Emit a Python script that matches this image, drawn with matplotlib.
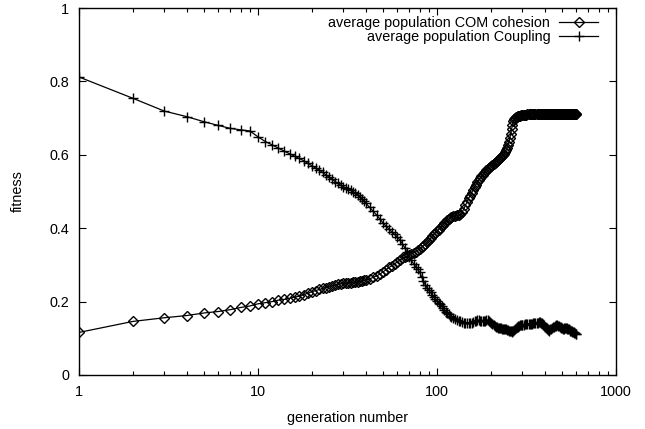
import numpy as np
import matplotlib
matplotlib.use('Agg')
import matplotlib.pyplot as plt
from matplotlib.ticker import FixedLocator, NullFormatter, NullLocator

plt.rcParams['font.family'] = ['Liberation Sans', 'DejaVu Sans']
plt.rcParams['font.size'] = 10.4

# generation numbers (sampled more sparsely as the log axis gets crowded)
generations = (list(range(1, 41)) + list(range(42, 121, 2))
               + list(range(123, 301, 3)) + list(range(305, 601, 5)))

# average population COM cohesion
com_cohesion = [
    # 1..40
    0.116, 0.146, 0.156, 0.162, 0.169, 0.173, 0.178, 0.184, 0.188, 0.194,
    0.197, 0.200, 0.204, 0.206, 0.209, 0.212, 0.215, 0.219, 0.223, 0.227,
    0.230, 0.233, 0.236, 0.238, 0.241, 0.243, 0.245, 0.247, 0.249, 0.250,
    0.251, 0.251, 0.252, 0.253, 0.253, 0.254, 0.255, 0.256, 0.258, 0.259,
    # 42..120 step 2
    0.262, 0.266, 0.270, 0.275, 0.281, 0.287, 0.293, 0.298, 0.303, 0.308,
    0.313, 0.318, 0.321, 0.324, 0.327, 0.330, 0.333, 0.336, 0.340, 0.344,
    0.348, 0.352, 0.357, 0.362, 0.367, 0.372, 0.378, 0.383, 0.388, 0.392,
    0.396, 0.400, 0.405, 0.409, 0.414, 0.418, 0.421, 0.424, 0.427, 0.430,
    # 123..300 step 3
    0.432, 0.433, 0.435, 0.436, 0.438, 0.444, 0.452, 0.462, 0.472, 0.481,
    0.489, 0.497, 0.505, 0.512, 0.519, 0.525, 0.531, 0.536, 0.541, 0.546,
    0.550, 0.554, 0.558, 0.561, 0.564, 0.567, 0.570, 0.573, 0.576, 0.578,
    0.581, 0.583, 0.586, 0.588, 0.591, 0.594, 0.597, 0.599, 0.602, 0.607,
    0.613, 0.619, 0.626, 0.634, 0.645, 0.657, 0.670, 0.682, 0.691, 0.697,
    0.701, 0.703, 0.704, 0.705, 0.706, 0.707, 0.707, 0.708, 0.708, 0.708,
    # 305..600 step 5
    0.709, 0.709, 0.709, 0.710, 0.710, 0.710, 0.710, 0.711, 0.711, 0.711,
    0.711, 0.712, 0.712, 0.712, 0.712, 0.712, 0.712, 0.712, 0.712, 0.712,
    0.712, 0.712, 0.712, 0.711, 0.711, 0.711, 0.711, 0.711, 0.711, 0.711,
    0.711, 0.711, 0.711, 0.710, 0.710, 0.710, 0.710, 0.710, 0.710, 0.710,
    0.710, 0.710, 0.710, 0.710, 0.710, 0.710, 0.710, 0.710, 0.710, 0.710,
    0.710, 0.710, 0.710, 0.710, 0.710, 0.710, 0.710, 0.710, 0.710, 0.710,
]

# average population Coupling
coupling = [
    # 1..40
    0.812, 0.754, 0.719, 0.704, 0.690, 0.680, 0.672, 0.668, 0.665, 0.649,
    0.636, 0.627, 0.618, 0.610, 0.603, 0.596, 0.590, 0.584, 0.577, 0.570,
    0.564, 0.558, 0.552, 0.545, 0.539, 0.533, 0.527, 0.522, 0.517, 0.513,
    0.510, 0.506, 0.503, 0.499, 0.495, 0.491, 0.486, 0.480, 0.474, 0.468,
    # 42..120 step 2
    0.457, 0.446, 0.436, 0.425, 0.414, 0.405, 0.397, 0.390, 0.383, 0.376,
    0.368, 0.358, 0.347, 0.335, 0.322, 0.312, 0.303, 0.295, 0.288, 0.280,
    0.268, 0.256, 0.246, 0.238, 0.231, 0.225, 0.219, 0.213, 0.207, 0.201,
    0.197, 0.193, 0.188, 0.183, 0.178, 0.173, 0.169, 0.165, 0.162, 0.159,
    # 123..300 step 3
    0.156, 0.153, 0.150, 0.148, 0.146, 0.144, 0.143, 0.142, 0.141, 0.141,
    0.142, 0.143, 0.145, 0.147, 0.148, 0.149, 0.149, 0.148, 0.147, 0.146,
    0.147, 0.148, 0.150, 0.150, 0.148, 0.145, 0.141, 0.138, 0.136, 0.134,
    0.132, 0.130, 0.129, 0.128, 0.127, 0.127, 0.126, 0.126, 0.125, 0.125,
    0.124, 0.123, 0.122, 0.121, 0.120, 0.119, 0.118, 0.119, 0.121, 0.123,
    0.126, 0.128, 0.130, 0.132, 0.133, 0.134, 0.135, 0.136, 0.136, 0.137,
    # 305..600 step 5
    0.137, 0.138, 0.138, 0.139, 0.139, 0.139, 0.140, 0.140, 0.141, 0.141,
    0.142, 0.142, 0.143, 0.144, 0.144, 0.143, 0.141, 0.138, 0.135, 0.132,
    0.129, 0.126, 0.123, 0.121, 0.122, 0.124, 0.126, 0.128, 0.130, 0.131,
    0.133, 0.134, 0.135, 0.135, 0.134, 0.133, 0.131, 0.130, 0.128, 0.127,
    0.126, 0.126, 0.127, 0.128, 0.128, 0.127, 0.126, 0.125, 0.124, 0.123,
    0.121, 0.120, 0.119, 0.118, 0.117, 0.116, 0.115, 0.114, 0.113, 0.113,
]

x_ticks = [1, 10, 100, 1000]
x_labels = ['1', '10', '100', '1000']
y_ticks = [0, 0.2, 0.4, 0.6, 0.8, 1]
y_labels = ['0', '0.2', '0.4', '0.6', '0.8', '1']

fig = plt.figure(figsize=(6.45, 4.29), dpi=100)
ax = fig.add_axes([79 / 645, 1 - 375 / 429, (616 - 79) / 645, (375 - 8) / 429])

ax.plot(generations, com_cohesion, color='black', lw=0.9, marker='D',
        ms=5.5, mfc='none', mec='black', mew=1.0,
        label='average population COM cohesion')
ax.plot(generations, coupling, color='black', lw=0.9, marker='+',
        ms=7, mec='black', mew=1.0,
        label='average population Coupling')

ax.set_xscale('log')
ax.set_xlim(1, 1000)
ax.set_ylim(0, 1)
ax.xaxis.set_major_locator(FixedLocator(x_ticks))
ax.set_xticklabels(x_labels)
ax.xaxis.set_minor_locator(FixedLocator(
    [m * d for d in (1, 10, 100) for m in range(2, 10)]))
ax.xaxis.set_minor_formatter(NullFormatter())
ax.set_yticks(y_ticks)
ax.set_yticklabels(y_labels)
ax.yaxis.set_minor_locator(NullLocator())

ax.tick_params(which='both', direction='in', top=True, right=True,
               width=0.8, pad=7)
ax.tick_params(which='major', length=5)
ax.tick_params(which='minor', length=3)
for s in ax.spines.values():
    s.set_linewidth(1.0)

ax.set_xlabel('generation number', labelpad=9)
ax.set_ylabel('fitness', labelpad=18)

ax.legend(loc='upper right', bbox_to_anchor=(598 / 645, 1 - 16 / 429),
          bbox_transform=fig.transFigure, frameon=False, markerfirst=False,
          borderpad=0, borderaxespad=0, handlelength=2.7, handletextpad=0.6,
          labelspacing=0.0)

fig.savefig('out.png', dpi=100)
